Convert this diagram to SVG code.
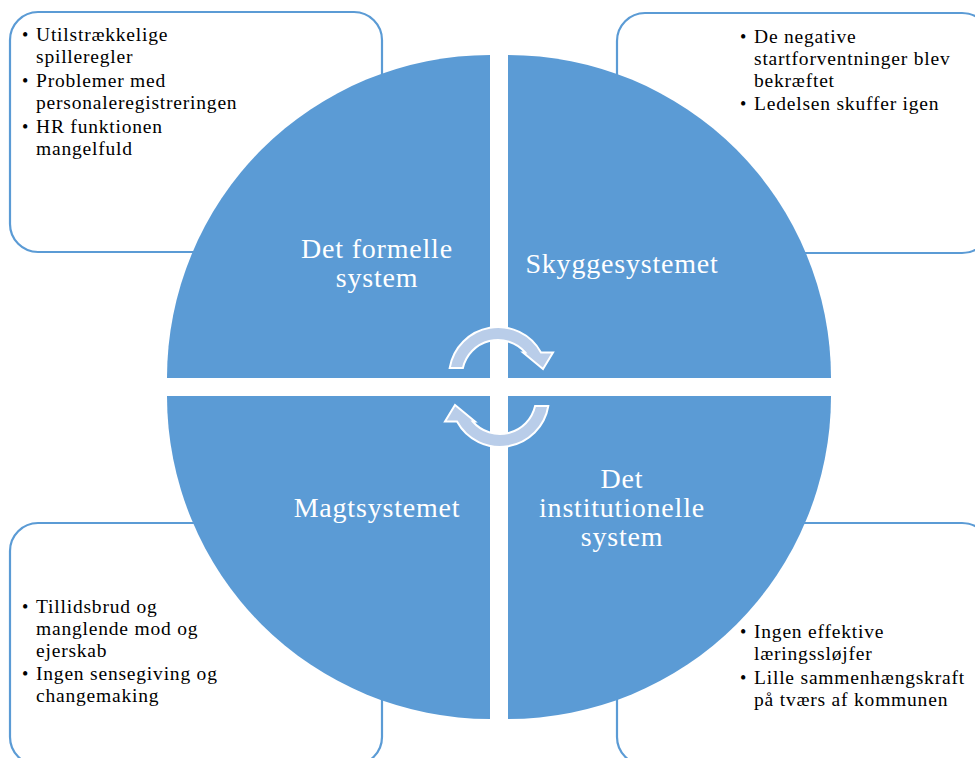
<svg xmlns="http://www.w3.org/2000/svg" xmlns:xlink="http://www.w3.org/1999/xlink" width="975" height="758" viewBox="0 0 975 758" font-family="'Liberation Serif', 'Times New Roman', Times, 'DejaVu Serif', serif">
  <style>
    .box { fill: #ffffff; stroke: #5b9bd5; stroke-width: 2.2; }
    .quad { fill: #5b9bd5; }
    .cycle { fill: #b9cde9; stroke: #ffffff; stroke-width: 2; stroke-linejoin: miter; }
    text { font-family: 'Liberation Serif', 'Times New Roman', Times, 'DejaVu Serif', serif; letter-spacing: 0.8px; }
    .label { font-size: 28px; fill: #ffffff; text-anchor: middle; }
    .item { font-size: 19.5px; fill: #000000; }
    .dot { font-size: 18px; }
  </style>
  <defs>
    <!-- curved arrow, drawn around its own arc centre -->
    <path id="cycle-arrow" d="M -48.3 -8 A 49 49 0 0 1 43 -23.5 L 55 -23.5 L 45 -7 L 25 -23.5 L 27.3 -23.5 A 36 36 0 0 0 -35.1 -8 Z"/>
  </defs>

  <!-- note boxes (behind the circle) -->
  <g id="note-formal">
    <rect class="box" x="10" y="12" width="372" height="240" rx="28" ry="28"/>
    <text class="item" y="41"><tspan class="dot" x="22">•</tspan><tspan x="36">Utilstrækkelige</tspan><tspan x="36" dy="22">spilleregler</tspan></text>
    <text class="item" y="87"><tspan class="dot" x="22">•</tspan><tspan x="36">Problemer med</tspan><tspan x="36" dy="22">personaleregistreringen</tspan></text>
    <text class="item" y="133"><tspan class="dot" x="22">•</tspan><tspan x="36">HR funktionen</tspan><tspan x="36" dy="22">mangelfuld</tspan></text>
  </g>

  <g id="note-shadow">
    <rect class="box" x="617" y="13" width="373" height="240" rx="28" ry="28"/>
    <text class="item" y="43"><tspan class="dot" x="740">•</tspan><tspan x="754">De negative</tspan><tspan x="754" dy="22">startforventninger blev</tspan><tspan x="754" dy="22">bekræftet</tspan></text>
    <text class="item" y="110"><tspan class="dot" x="740">•</tspan><tspan x="754">Ledelsen skuffer igen</tspan></text>
  </g>

  <g id="note-power">
    <rect class="box" x="10" y="523" width="372" height="242" rx="28" ry="28"/>
    <text class="item" y="613"><tspan class="dot" x="22">•</tspan><tspan x="36">Tillidsbrud og</tspan><tspan x="36" dy="22">manglende mod og</tspan><tspan x="36" dy="22">ejerskab</tspan></text>
    <text class="item" y="680"><tspan class="dot" x="22">•</tspan><tspan x="36">Ingen sensegiving og</tspan><tspan x="36" dy="22">changemaking</tspan></text>
  </g>

  <g id="note-institutional">
    <rect class="box" x="617" y="523" width="373" height="242" rx="28" ry="28"/>
    <text class="item" y="638"><tspan class="dot" x="740">•</tspan><tspan x="754">Ingen effektive</tspan><tspan x="754" dy="22">læringssløjfer</tspan></text>
    <text class="item" y="684"><tspan class="dot" x="740">•</tspan><tspan x="754">Lille sammenhængskraft</tspan><tspan x="754" dy="22">på tværs af kommunen</tspan></text>
  </g>

  <!-- four quarter-circle segments -->
  <g id="formal-system">
    <path class="quad" d="M 490 378 L 167 378 A 323 323 0 0 1 490 55 Z"/>
    <text class="label" x="377" y="258">Det formelle<tspan x="377" dy="29">system</tspan></text>
  </g>

  <g id="shadow-system">
    <path class="quad" d="M 508 378 L 508 55 A 323 323 0 0 1 831 378 Z"/>
    <text class="label" x="622" y="273">Skyggesystemet</text>
  </g>

  <g id="power-system">
    <path class="quad" d="M 490 396 L 490 719 A 323 323 0 0 1 167 396 Z"/>
    <text class="label" x="377" y="517">Magtsystemet</text>
  </g>

  <g id="institutional-system">
    <path class="quad" d="M 508 396 L 831 396 A 323 323 0 0 1 508 719 Z"/>
    <text class="label" x="622" y="488">Det<tspan x="622" dy="29">institutionelle</tspan><tspan x="622" dy="29">system</tspan></text>
  </g>

  <!-- cycle arrows in the centre -->
  <g id="connectors">
    <use xlink:href="#cycle-arrow" class="cycle" transform="translate(498 376)"/>
    <use xlink:href="#cycle-arrow" class="cycle" transform="rotate(180 499 387) translate(498 376)"/>
  </g>
</svg>
